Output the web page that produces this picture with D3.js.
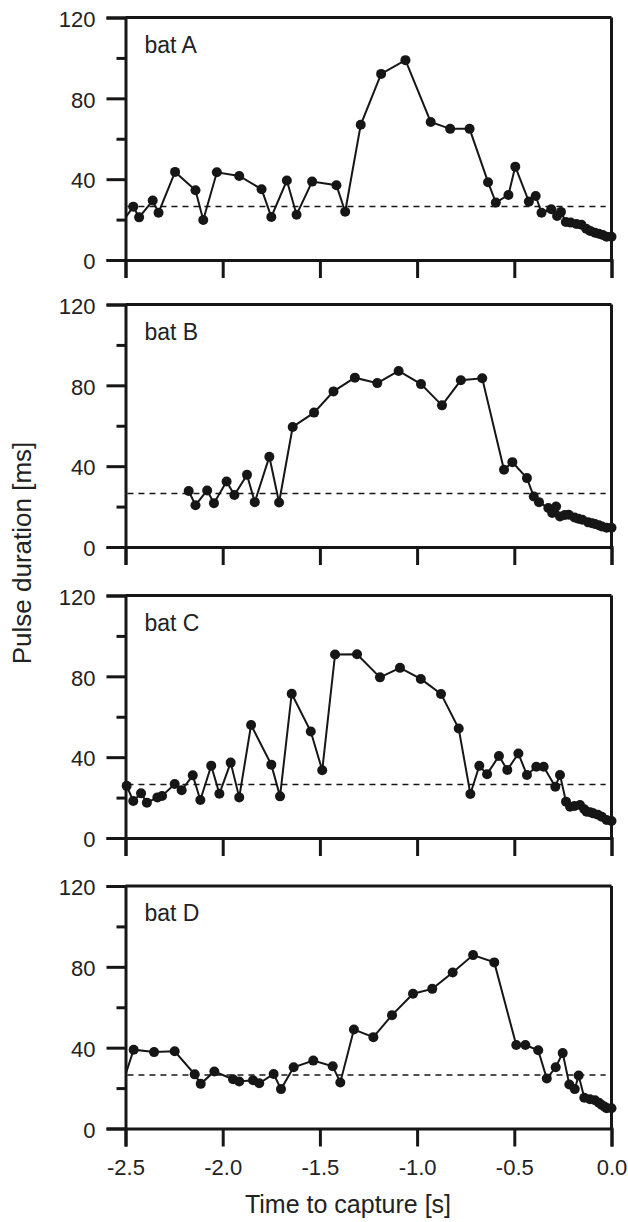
<!DOCTYPE html>
<html lang="en">
<head>
    <meta charset="UTF-8">
    <title>Pulse duration before capture</title>
    <style>
        body { margin: 0; background: #fff; }
        svg text { font-family: "Liberation Sans", Arial, sans-serif; fill: #222; }
    </style>
</head>
<body>
    <div id="chart"></div>

    <script src="https://d3js.org/d3.v7.min.js"></script>
    <script>
        // data: [time to capture (s), pulse duration (ms)]
        const batNames = ["bat A", "bat B", "bat C", "bat D"];
        const batA = [[-2.53,17],[-2.46,26.4],[-2.43,21.1],[-2.36,29.4],[-2.33,23.4],[-2.245,43.6],[-2.14,34.5],[-2.10,19.8],[-2.03,43.4],[-1.915,41.6],[-1.80,35.0],[-1.75,21.3],[-1.67,39.3],[-1.62,22.4],[-1.54,38.8],[-1.415,37.0],[-1.37,23.9],[-1.29,66.9],[-1.185,92.1],[-1.06,98.9],[-0.93,68.3],[-0.83,64.9],[-0.73,64.9],[-0.635,38.5],[-0.595,28.4],[-0.53,32.2],[-0.495,46.2],[-0.425,28.9],[-0.39,31.7],[-0.36,23.4],[-0.31,25.1],[-0.28,21.8],[-0.26,23.8],[-0.235,18.8],[-0.21,18.5],[-0.18,17.8],[-0.155,17.5],[-0.13,15.5],[-0.11,14.4],[-0.085,13.5],[-0.065,13.0],[-0.045,12.4],[-0.025,11.5],[0,11.5]];
        const batB = [[-2.175,27.7],[-2.14,20.7],[-2.08,28.0],[-2.045,21.7],[-1.98,32.4],[-1.94,25.7],[-1.875,35.7],[-1.835,22.2],[-1.76,44.7],[-1.71,22.0],[-1.64,59.4],[-1.53,66.5],[-1.43,77.0],[-1.32,83.8],[-1.205,81.1],[-1.095,87.1],[-0.98,80.6],[-0.872,70.1],[-0.775,82.5],[-0.665,83.5],[-0.553,38.2],[-0.51,42.0],[-0.435,34.1],[-0.40,25.0],[-0.373,22.2],[-0.325,19.3],[-0.305,16.8],[-0.285,20.0],[-0.265,15.1],[-0.24,15.8],[-0.22,16.0],[-0.19,14.6],[-0.17,14.0],[-0.15,13.5],[-0.12,12.2],[-0.10,11.8],[-0.085,11.4],[-0.065,10.8],[-0.05,10.2],[-0.025,9.5],[0,9.5]];
        const batC = [[-2.494,25.8],[-2.46,18.3],[-2.42,22.1],[-2.39,17.5],[-2.336,20.1],[-2.312,20.8],[-2.247,26.7],[-2.211,23.6],[-2.154,31.0],[-2.115,18.8],[-2.059,35.8],[-2.017,21.9],[-1.959,37.3],[-1.915,20.1],[-1.854,55.9],[-1.75,36.3],[-1.705,20.6],[-1.645,71.4],[-1.547,52.7],[-1.488,33.5],[-1.422,90.8],[-1.309,90.9],[-1.191,79.5],[-1.088,84.2],[-0.981,78.7],[-0.877,71.3],[-0.786,54.2],[-0.726,21.8],[-0.68,35.7],[-0.64,31.6],[-0.579,40.6],[-0.536,33.7],[-0.479,41.8],[-0.435,31.2],[-0.387,35.3],[-0.349,35.3],[-0.289,25.4],[-0.265,31.2],[-0.234,18.0],[-0.213,15.5],[-0.19,15.8],[-0.162,16.3],[-0.14,14.2],[-0.128,13.0],[-0.11,12.8],[-0.094,12.2],[-0.07,11.5],[-0.05,10.5],[-0.025,8.9],[0,8.4]];
        const batD = [[-2.52,20.8],[-2.458,39.0],[-2.353,37.8],[-2.247,38.2],[-2.144,26.8],[-2.113,22.1],[-2.043,28.2],[-1.947,24.4],[-1.915,23.3],[-1.844,23.9],[-1.812,22.4],[-1.738,27.0],[-1.70,19.5],[-1.635,30.3],[-1.534,33.6],[-1.434,30.8],[-1.395,22.8],[-1.325,49.0],[-1.225,45.2],[-1.129,56.1],[-1.021,66.7],[-0.922,69.1],[-0.817,77.2],[-0.712,85.8],[-0.603,82.2],[-0.49,41.3],[-0.443,41.3],[-0.377,38.7],[-0.333,24.7],[-0.287,30.3],[-0.251,37.3],[-0.217,21.8],[-0.189,19.5],[-0.169,26.2],[-0.14,15.2],[-0.111,14.5],[-0.085,14.0],[-0.065,12.8],[-0.05,11.6],[-0.035,10.8],[-0.025,10.0],[0,10.0]];
        const batSeries = [batA, batB, batC, batD];
        const refDuration = 26.5;   // dashed reference line
        const xTicks = [-2.5, -2.0, -1.5, -1.0, -0.5, 0.0];
        const yMajorTicks = [0, 40, 80, 120];
        const yMinorTicks = [20, 60, 100];

        const w = 628;
        const h = 1222;
        const left = 125.5;
        const plotW = 486;
        const plotH = 242.5;
        const panelTops = [17.5, 304.5, 595.5, 886];
        const ink = "#161616";

        const x = d3.scaleLinear().domain([-2.5, 0]).range([0, plotW]);
        const y = d3.scaleLinear().domain([0, 120]).range([plotH, 0]);

        const svg = d3.select("#chart")
            .append("svg")
            .attr("width", w)
            .attr("height", h);

        const defs = svg.append("defs");
        // only the left side is cut; dots at t=0 sit over the right frame
        defs.append("clipPath")
            .attr("id", "plotClip")
            .append("rect")
            .attr("x", 0)
            .attr("y", -20)
            .attr("width", plotW + 20)
            .attr("height", plotH + 40);

        const line = d3.line()
            .x(d => x(d[0]))
            .y(d => y(d[1]));

        batSeries.forEach((data, i) => {
            const last = i === batSeries.length - 1;
            const g = svg.append("g")
                .attr("transform", `translate(${left},${panelTops[i]})`);

            // frame top and right
            g.append("line")
                .attr("x1", 0).attr("x2", plotW)
                .attr("y1", 0).attr("y2", 0)
                .attr("stroke", ink).attr("stroke-width", 3);
            g.append("line")
                .attr("x1", plotW).attr("x2", plotW)
                .attr("y1", 0).attr("y2", plotH)
                .attr("stroke", ink).attr("stroke-width", 3);

            // y axis, long major ticks and short minor ones
            const yAxis = g.append("g")
                .call(d3.axisLeft(y).tickValues(yMajorTicks).tickSize(19).tickPadding(11).tickFormat(d3.format("d")));
            yAxis.select(".domain").attr("stroke", ink).attr("stroke-width", 3);
            yAxis.selectAll(".tick line").attr("stroke", ink).attr("stroke-width", 3);
            yAxis.selectAll(".tick text")
                .attr("font-size", 22)
                .attr("dy", "0.4em")
                .style("font-family", "'Liberation Sans', Arial, sans-serif")
                .attr("fill", "#222");

            const yMinor = g.append("g")
                .call(d3.axisLeft(y).tickValues(yMinorTicks).tickSize(9).tickFormat(""));
            yMinor.select(".domain").remove();
            yMinor.selectAll(".tick line").attr("stroke", ink).attr("stroke-width", 3);

            // x axis on every panel, labels only on the bottom one
            const xAxis = g.append("g")
                .attr("transform", `translate(0,${plotH})`)
                .call(d3.axisBottom(x).tickValues(xTicks).tickSize(18).tickPadding(13)
                    .tickFormat(last ? d3.format(".1f") : ""));
            xAxis.select(".domain").attr("stroke", ink).attr("stroke-width", 3);
            xAxis.selectAll(".tick line").attr("stroke", ink).attr("stroke-width", 3);
            xAxis.selectAll(".tick text")
                .attr("font-size", 22)
                .style("font-family", "'Liberation Sans', Arial, sans-serif")
                .attr("fill", "#222")
                .text(d => last ? d3.format(".1f")(d).replace("−", "-") : "");

            // reference line
            g.append("line")
                .attr("x1", x(-2.49)).attr("x2", x(-0.03))
                .attr("y1", y(refDuration)).attr("y2", y(refDuration))
                .attr("stroke", ink)
                .attr("stroke-width", 1.6)
                .attr("stroke-dasharray", "6,5");

            // series
            g.append("path")
                .datum(data)
                .attr("clip-path", "url(#plotClip)")
                .attr("fill", "none")
                .attr("stroke", ink)
                .attr("stroke-width", 2)
                .attr("d", line);

            g.append("g")
                .selectAll("circle")
                .data(data.filter(d => d[0] >= -2.5))
                .enter()
                .append("circle")
                .attr("cx", d => x(d[0]))
                .attr("cy", d => y(d[1]))
                .attr("r", 5)
                .attr("fill", ink);

            g.append("text")
                .attr("x", 19)
                .attr("y", 35)
                .attr("font-size", 23)
                .text(batNames[i]);
        });

        svg.append("text")
            .attr("x", 348)
            .attr("y", 1213)
            .attr("text-anchor", "middle")
            .attr("font-size", 25)
            .text("Time to capture [s]");

        svg.append("text")
            .attr("transform", `translate(31,553) rotate(-90)`)
            .attr("text-anchor", "middle")
            .attr("font-size", 26)
            .text("Pulse duration [ms]");
    </script>
</body>
</html>
